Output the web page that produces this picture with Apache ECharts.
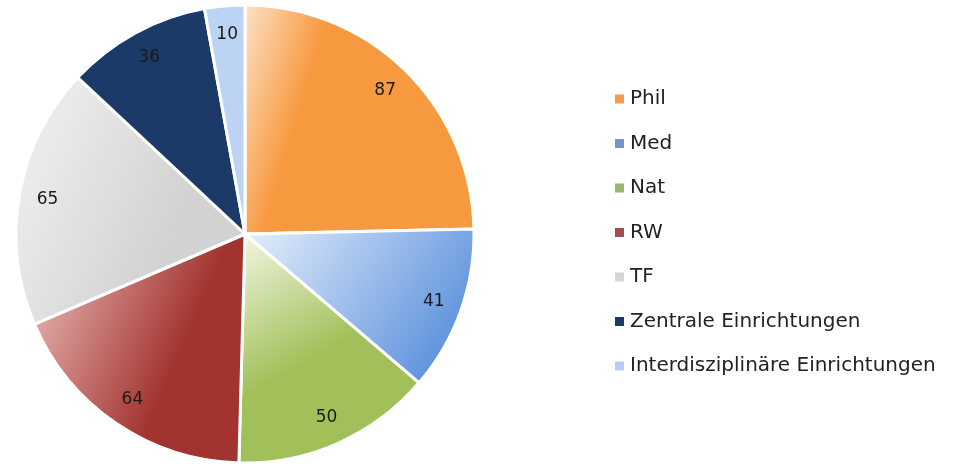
<!DOCTYPE html>
<html>
<head>
<meta charset="utf-8">
<script src="https://cdn.jsdelivr.net/npm/echarts@6/dist/echarts.min.js"></script>
<style>html,body{margin:0;padding:0;background:#fff}#c{width:965px;height:466px}</style>
</head>
<body>
<div id="c"></div>
<script>
const categories = ['Phil', 'Med', 'Nat', 'RW', 'TF', 'Zentrale Einrichtungen', 'Interdisziplinäre Einrichtungen'];
const values = [87, 41, 50, 64, 65, 36, 10];
const solidColors = ['#F39A4C', '#7497D2', '#9DB56A', '#A24E50', '#D6D6D6', '#1C3A66', '#B9CCF2'];

function lg(x, y, x2, y2, c0, c1, mid) {
  return new echarts.graphic.LinearGradient(x, y, x2, y2, [
    {offset: 0, color: c0}, {offset: mid, color: c1}, {offset: 1, color: c1}
  ]);
}
const fills = [
  lg(0, 0, 1, 0.3, '#FCE3C8', '#F7993F', 0.35),
  lg(0, 0, 1, 1, '#E8F0FB', '#4E88DA', 0.95),
  lg(0, 0, 0.7, 1, '#F4F8E6', '#A2C05A', 0.55),
  lg(0, 0.1, 1, 0.5, '#EBBDBB', '#A2332F', 0.75),
  lg(0, 0.2, 1, 0.6, '#F0F0F0', '#D2D2D2', 0.75),
  '#1B3A68',
  '#BCD3F3'
];

const chart = echarts.init(document.getElementById('c'), null, {renderer: 'canvas'});
const R = 229, cx = 245, cy = 234;
chart.setOption({
  animation: false,
  legend: {
    orient: 'vertical',
    left: 608,
    top: 84,
    itemWidth: 11,
    itemHeight: 11,
    itemGap: 24.5,
    icon: 'rect',
    textStyle: {fontFamily: 'DejaVu Sans', fontSize: 20, color: '#222', lineHeight: 20},
    data: categories.map((n, i) => ({name: n, itemStyle: {color: solidColors[i]}}))
  },
  series: [
    {
      type: 'pie',
      center: [cx, cy],
      radius: [0, R],
      startAngle: 90,
      clockwise: true,
      silent: true,
      label: {show: false},
      labelLine: {show: false},
      itemStyle: {borderColor: '#fff', borderWidth: 3},
      data: categories.map((n, i) => ({name: n, value: values[i], itemStyle: {color: fills[i]}}))
    },
    {
      type: 'pie',
      center: [cx, cy],
      radius: [166, R],
      startAngle: 90,
      clockwise: true,
      silent: true,
      itemStyle: {color: 'rgba(0,0,0,0)', borderWidth: 0},
      label: {show: true, position: 'inside', formatter: '{c}', fontFamily: 'DejaVu Sans', fontSize: 17, color: '#1a1a1a'},
      labelLine: {show: false},
      data: categories.map((n, i) => ({name: n, value: values[i]}))
    }
  ]
});
</script>
</body>
</html>
